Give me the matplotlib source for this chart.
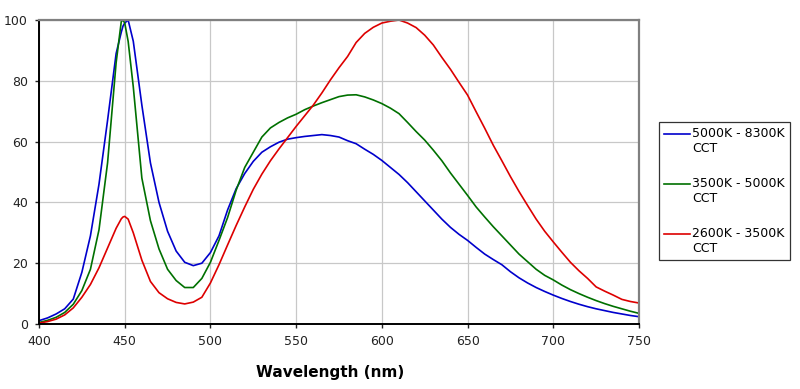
import numpy as np
from matplotlib import pyplot as plt
from matplotlib.legend_handler import HandlerLine2D

# wavelength samples (nm), a few extra around the blue peak
wl = [400, 405, 410, 415, 420, 425, 430, 435, 440, 445, 448, 449, 450, 452, 455, 460,
      465, 470, 475, 480, 485, 490, 495, 500, 505, 510, 515, 520, 525, 530, 535, 540,
      545, 550, 555, 560, 565, 570, 575, 580, 585, 590, 595, 600, 605, 610, 615, 620,
      625, 630, 635, 640, 645, 650, 655, 660, 665, 670, 675, 680, 685, 690, 695, 700,
      705, 710, 715, 720, 725, 730, 735, 740, 745, 750]

cool = [1.1, 2.0, 3.3, 5.0, 8.2, 17, 29, 46, 67, 89, 96, 98, 99, 100, 93, 72,
        53, 40, 30.5, 24, 20.3, 19.2, 20, 23.5, 29, 37.5, 44.5, 49.5, 53.5, 56.5, 58.3, 59.8,
        60.8, 61.3, 61.7, 62, 62.3, 62, 61.5, 60.3, 59.3, 57.5, 55.8, 53.8, 51.5, 49.2, 46.5, 43.5,
        40.5, 37.5, 34.5, 31.8, 29.5, 27.5, 25.2, 23, 21.2, 19.5, 17.2, 15.2, 13.5, 12, 10.7, 9.5,
        8.4, 7.4, 6.5, 5.7, 5.0, 4.4, 3.8, 3.3, 2.8, 2.4]

neutral = [0.5, 1.2, 2.2, 3.8, 6.5, 11, 18, 31, 53, 86, 99.5, 100, 99, 93, 78, 48,
           34, 24.7, 18, 14.3, 12, 12, 15, 20.3, 27.5, 35, 44, 51.5, 56.5, 61.5, 64.5, 66.3,
           67.8, 69, 70.5, 71.7, 72.8, 73.8, 74.8, 75.3, 75.4, 74.7, 73.7, 72.5, 71, 69.2, 66.3, 63.3,
           60.5, 57.2, 53.7, 49.7, 46, 42.3, 38.5, 35.2, 32, 29, 26, 23, 20.5, 18, 16, 14.5,
           12.8, 11.3, 10, 8.8, 7.7, 6.7, 5.8, 5.0, 4.2, 3.5]

warm = [0.3, 0.8, 1.6, 3.0, 5.3, 8.8, 13, 18.5, 25, 31.5, 34.6, 35.2, 35.4, 34.5, 30, 21,
        14, 10.3, 8.3, 7.1, 6.6, 7.2, 8.8, 13.5, 19.5, 26, 32.4, 38.5, 44.3, 49.3, 53.7, 57.6,
        61.3, 65, 68.5, 72, 76, 80.3, 84.3, 88, 92.6, 95.6, 97.6, 99, 99.6, 100, 99, 97.5,
        95, 91.8, 87.7, 83.8, 79.5, 75.3, 69.8, 64.4, 58.8, 53.7, 48.5, 43.6, 39, 34.5, 30.5, 27,
        23.6, 20.3, 17.5, 15, 12.2, 10.8, 9.5, 8.1, 7.4, 6.9]

series = [
    (cool, '#0000CC', '5000K - 8300K\nCCT'),
    (neutral, '#007000', '3500K - 5000K\nCCT'),
    (warm, '#DD0000', '2600K - 3500K\nCCT'),
]


class FirstLineHandler(HandlerLine2D):
    # put the legend line next to the first text line, not the middle
    def create_artists(self, legend, orig_handle, xdescent, ydescent, width, height, fontsize, trans):
        arts = super().create_artists(legend, orig_handle, xdescent, ydescent, width, height, fontsize, trans)
        for a in arts:
            a.set_ydata(np.asarray(a.get_ydata()) + 0.6 * fontsize)
        return arts


fig = plt.figure(figsize=(8, 3.89), dpi=100)
ax = fig.add_axes([39 / 800, 1 - 324 / 389, 600 / 800, 304 / 389])

for y, c, label in series:
    ax.plot(wl, y, color=c, lw=1.2, label=label)

ax.set_xlim(400, 750)
ax.set_ylim(0, 100)
ax.set_xticks(range(400, 751, 50))
ax.set_yticks(range(0, 101, 20))
ax.grid(True, color='#c8c8c8', lw=0.9)
ax.set_axisbelow(True)
ax.tick_params(labelsize=9, length=3, width=1, colors='#222222', pad=5)
for side in ['left', 'bottom']:
    ax.spines[side].set_color('black')
    ax.spines[side].set_linewidth(1.4)
for side in ['top', 'right']:
    ax.spines[side].set_color('#808080')
    ax.spines[side].set_linewidth(1.6)

ax.set_xlabel('Wavelength (nm)', fontsize=11, fontweight='bold')
ax.xaxis.set_label_coords(0.485, -0.135)

leg = ax.legend(loc='upper left', bbox_to_anchor=(659 / 800, 1 - 122 / 389),
                bbox_transform=fig.transFigure, fontsize=9, frameon=True, fancybox=False,
                edgecolor='black', borderpad=0.4, handlelength=2.1, handletextpad=0.15,
                labelspacing=1.75, borderaxespad=0,
                handler_map={plt.Line2D: FirstLineHandler()})
leg.get_frame().set_linewidth(0.9)

fig.savefig('out.png', dpi=100)
